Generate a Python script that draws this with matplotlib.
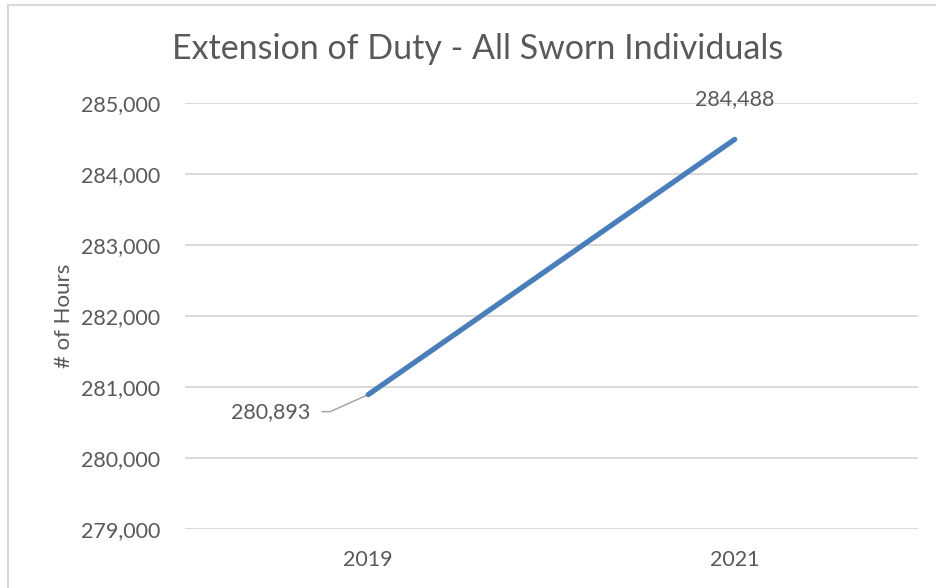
import matplotlib
matplotlib.use("Agg")
import matplotlib.pyplot as plt
from matplotlib.lines import Line2D
from matplotlib.ticker import FuncFormatter

years = ["2019", "2021"]
hours = [280893, 284488]
yTicks = [279000, 280000, 281000, 282000, 283000, 284000, 285000]

textColor = "#595959"
lineColor = "#4A7EBB"
gridColor = "#D9D9D9"

plt.rcParams['font.family'] = ['Lato', 'DejaVu Sans']

fig = plt.figure(figsize=(9.37, 5.88), dpi=100)
ax = fig.add_axes([0.1974, 0.1003, 0.7823, 0.7245])

x = list(range(len(years)))
ax.plot(x, hours, color=lineColor, linewidth=3.8, solid_capstyle='round')

ax.set_xlim(-0.5, len(years) - 0.5)
ax.set_ylim(yTicks[0], yTicks[-1])
ax.set_yticks(yTicks)
ax.yaxis.set_major_formatter(FuncFormatter(lambda v, p: "{:,.0f}".format(v)))
ax.set_xticks(x)
ax.set_xticklabels(years)
ax.grid(axis='y', color=gridColor, linewidth=1.4)
ax.set_axisbelow(True)
for s in ax.spines.values():
    s.set_visible(False)
ax.tick_params(length=0, labelsize=15.5, colors=textColor, pad=18)
ax.tick_params(axis='x', pad=15)

ax.set_ylabel("# of Hours", fontsize=16, color=textColor, labelpad=5)
fig.text(0.51, 0.916, "Extension of Duty - All Sworn Individuals", ha='center', va='center',
         fontsize=24.5, color=textColor)

# data labels
ax.annotate("{:,}".format(hours[1]), (x[1], hours[1]), xytext=(0, 40), textcoords='offset pixels',
            ha='center', va='center', fontsize=15.5, color=textColor)
ax.annotate("{:,}".format(hours[0]), (x[0], hours[0]), xytext=(-98, -17), textcoords='offset pixels',
            ha='center', va='center', fontsize=15.5, color=textColor)
# leader line for the 2019 label
lx, ly = ax.transData.transform((x[0], hours[0]))
inv = ax.transData.inverted()
p1 = inv.transform((lx - 46, ly - 17))
p2 = inv.transform((lx - 38, ly - 17))
ax.plot([p1[0], p2[0], x[0]], [p1[1], p2[1], hours[0]], color="#A6A6A6", linewidth=1.1, zorder=1)

# chart border
fig.add_artist(Line2D([8 / 937, 8 / 937], [0, 1 - 5 / 588], transform=fig.transFigure, color=gridColor, linewidth=1.5))
fig.add_artist(Line2D([8 / 937, 1], [1 - 5 / 588, 1 - 5 / 588], transform=fig.transFigure, color=gridColor, linewidth=1.5))

fig.savefig("out.png", dpi=100)
